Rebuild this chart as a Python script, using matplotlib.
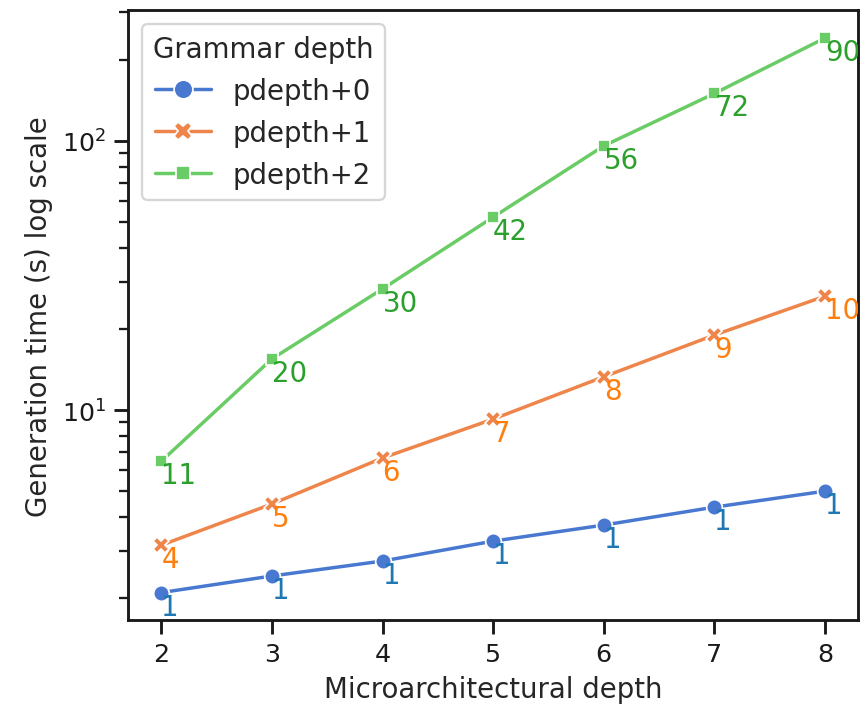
import matplotlib
matplotlib.use("Agg")
import matplotlib.pyplot as plt
import seaborn as sns
import pandas as pd

depths = [2, 3, 4, 5, 6, 7, 8]
series_names = ["pdepth+0", "pdepth+1", "pdepth+2"]
time_p0 = [2.10, 2.42, 2.75, 3.26, 3.74, 4.36, 5.0]
time_p1 = [3.15, 4.48, 6.64, 9.26, 13.3, 19.0, 26.5]
time_p2 = [6.46, 15.5, 28.2, 52.1, 95.8, 150, 241]
labels_p0 = [1, 1, 1, 1, 1, 1, 1]
labels_p1 = [4, 5, 6, 7, 8, 9, 10]
labels_p2 = [11, 20, 30, 42, 56, 72, 90]

times = [time_p0, time_p1, time_p2]
labels = [labels_p0, labels_p1, labels_p2]
text_colors = ["tab:blue", "tab:orange", "tab:green"]

rows = []
for name, ts in zip(series_names, times):
    for d, t in zip(depths, ts):
        rows.append({"Microarchitectural depth": d, "time": t, "Grammar depth": name})
df = pd.DataFrame(rows)

sns.set_theme(style="ticks", context="notebook", palette="muted")
plt.rcParams["font.family"] = ["DejaVu Sans"]
plt.rcParams["axes.edgecolor"] = "0.1"
plt.rcParams["xtick.color"] = "0.1"
plt.rcParams["ytick.color"] = "0.1"

dpi = 166
fig = plt.figure(figsize=(866 / dpi, 706 / dpi), dpi=dpi)
ax = fig.add_axes([0.148, 0.12, 0.843, 0.864])

sns.lineplot(data=df, x="Microarchitectural depth", y="time",
             hue="Grammar depth", style="Grammar depth",
             markers=True, dashes=False, markersize=6.8, ax=ax)
ax.set_yscale("log")

for ts, labs, c in zip(times, labels, text_colors):
    for d, t, l in zip(depths, ts, labs):
        ax.text(d, t, str(l), color=c, ha="left", va="top", clip_on=True)

ax.set_xlabel("Microarchitectural depth")
ax.set_ylabel("Generation time (s) log scale")
leg = ax.legend(title="Grammar depth", loc="upper left", markerscale=1.2,
                fontsize=12, title_fontsize=12)

fig.savefig("out.png", dpi=dpi)
